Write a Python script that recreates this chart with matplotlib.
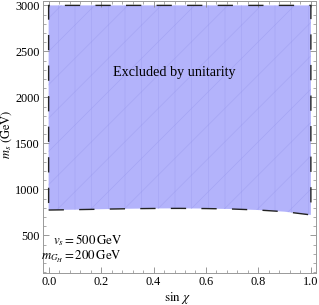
import numpy as np
import matplotlib
matplotlib.use('Agg')
import matplotlib.pyplot as plt
from matplotlib.ticker import MultipleLocator

plt.rcParams['font.family'] = ['Liberation Serif', 'DejaVu Serif']
plt.rcParams['mathtext.fontset'] = 'stix'
plt.rcParams['hatch.linewidth'] = 0.4

# lower boundary of the excluded region
sin_chi = [0.0, 0.1, 0.2, 0.3, 0.4, 0.5, 0.6, 0.7, 0.8, 0.9, 1.0]
ms_low = [775, 779, 784, 789, 792, 793, 791, 786, 775, 757, 722]
ms_top = 3000

xticks = [0.0, 0.2, 0.4, 0.6, 0.8, 1.0]
yticks = [500, 1000, 1500, 2000, 2500, 3000]

fig = plt.figure(figsize=(3.19, 3.05), dpi=100)
ax = fig.add_axes([0.136, 0.106, 0.855, 0.892])

x = np.array(sin_chi)
y = np.array(ms_low)
px = np.concatenate([x, [x[-1], x[0]]])
py = np.concatenate([y, [ms_top, ms_top]])

ax.fill(px, py, facecolor='#b3b3fb', edgecolor='#a3a3f3', linewidth=0,
        hatch='/|', zorder=1)
ax.plot(np.append(px, px[0]), np.append(py, py[0]), color='#222222', lw=1.0,
        dashes=(11, 11), zorder=2)

ax.set_xlim(-0.02, 1.02)
ax.set_ylim(94, 3052)
ax.set_xticks(xticks)
ax.set_xticklabels(['%.1f' % v for v in xticks])
ax.set_yticks(yticks)
ax.xaxis.set_minor_locator(MultipleLocator(0.04))
ax.yaxis.set_minor_locator(MultipleLocator(100))
ax.tick_params(which='both', direction='in', top=True, right=True,
               labelsize=8.8, color='#888888', pad=2.5)
ax.tick_params(which='major', length=4, width=0.6)
ax.tick_params(which='minor', length=2, width=0.5)
for s in ax.spines.values():
    s.set_color('#999999')
    s.set_linewidth(0.7)

ax.set_xlabel(r'$\mathrm{sin}\ \chi$', fontsize=9.5)
ax.set_ylabel(r'$m_s\ \mathrm{(GeV)}$', fontsize=9)
ax.xaxis.set_label_coords(0.493, -0.062)
ax.yaxis.set_label_coords(-0.108, 0.507)

ax.text(0.478, 2275, 'Excluded by unitarity', fontsize=10.2, ha='center', va='center')
ax.text(0.28, 449, r'$v_s = 500\,\mathrm{GeV}$', fontsize=9.3, ha='right', va='center')
ax.text(0.28, 264, r'$m_{G_H} = 200\,\mathrm{GeV}$', fontsize=9.3, ha='right', va='center')

fig.savefig('out.png', dpi=100)
